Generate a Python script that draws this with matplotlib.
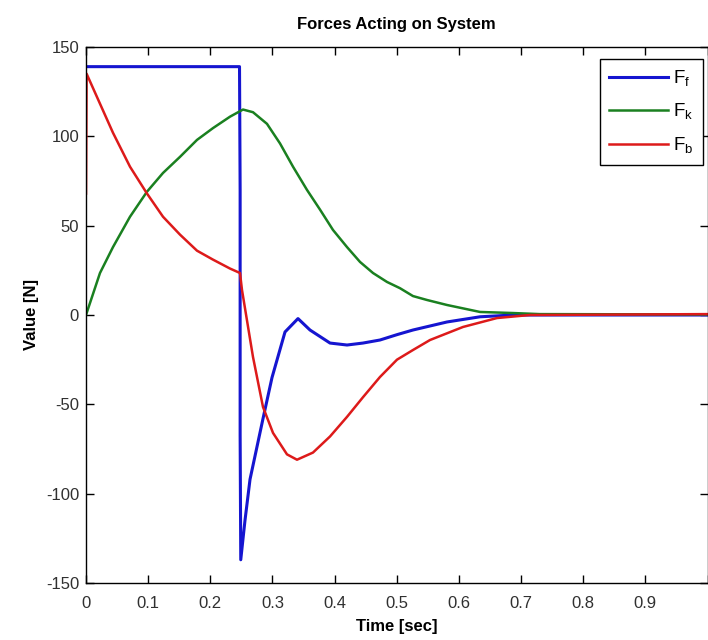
import numpy as np
import matplotlib
matplotlib.use("Agg")
from matplotlib import pyplot as plt

plt.rcParams['font.family'] = ['Liberation Sans', 'DejaVu Sans']
plt.rcParams['mathtext.fontset'] = 'custom'
plt.rcParams['mathtext.rm'] = 'Liberation Sans'
plt.rcParams['axes.unicode_minus'] = False

# values
t_f = [0.0, 0.247, 0.248, 0.248, 0.249, 0.2558, 0.2639, 0.2848, 0.2993, 0.3202,
       0.3411, 0.3604, 0.3926, 0.42, 0.4457, 0.473, 0.5004, 0.5261, 0.5809,
       0.634, 0.687, 1.0]
F_f = [139, 139, 70, -67, -137, -115, -92, -58, -35, -9.5,
       -2, -8.4, -15.7, -16.8, -15.7, -14, -11, -8.4, -3.9,
       -1, 0, 0]

t_k = [0.0, 0.0225, 0.0434, 0.0708, 0.0981, 0.1239, 0.1512, 0.1786, 0.2043,
       0.2317, 0.2526, 0.2687, 0.2912, 0.3122, 0.3331, 0.3556, 0.3765, 0.3974,
       0.42, 0.4409, 0.4618, 0.4843, 0.5052, 0.5261, 0.5487, 0.5809, 0.634,
       0.687, 0.73, 1.0]
F_k = [0, 23.5, 38, 55, 69, 79.5, 88.5, 98, 104.6,
       111, 115, 113.5, 107, 96, 83, 70, 59, 47.6,
       38, 29.7, 23.5, 18.5, 15, 10.6, 8.4, 5.6, 1.7,
       1.1, 0.5, 0.3]

t_b = [0.0, 0.001, 0.0177, 0.0434, 0.0708, 0.0981, 0.1239, 0.1512, 0.1786,
       0.2043, 0.2317, 0.2478, 0.251, 0.2687, 0.2848, 0.3009, 0.3234, 0.3395,
       0.3652, 0.3926, 0.42, 0.4457, 0.473, 0.5004, 0.5261, 0.5535, 0.6066,
       0.6613, 0.7144, 1.0]
F_b = [68, 135, 122, 102, 83, 68, 55, 45, 36,
       31, 26, 23.5, 14, -23.5, -51.5, -66, -78, -81,
       -77, -68, -57, -46, -34.7, -25, -19.6, -14, -6.7,
       -1.7, 0, 0.5]

fig = plt.figure(figsize=(7.08, 6.4), dpi=100)
ax = fig.add_axes([86 / 708, 57 / 640, 621.5 / 708, 536 / 640])

ax.plot(t_f, F_f, color='#1515d0', lw=2.2, label=r'F$_\mathrm{f}$')
ax.plot(t_k, F_k, color='#1a8020', lw=1.8, label=r'F$_\mathrm{k}$')
ax.plot(t_b, F_b, color='#dd1a1a', lw=1.8, label=r'F$_\mathrm{b}$')

ax.set_xlim(0, 1)
ax.set_ylim(-150, 150)
xt = np.arange(0, 1.01, 0.1)
ax.set_xticks(xt)
ax.set_xticklabels(['0'] + ['%.1f' % v for v in xt[1:-1]] + [''])
ax.set_yticks(np.arange(-150, 151, 50))
ax.tick_params(direction='in', top=True, right=True, labelsize=12, length=6,
               width=1, labelcolor='#303030')
ax.tick_params(axis='x', pad=9)
ax.tick_params(axis='y', pad=5)
for s in ax.spines.values():
    s.set_linewidth(1)

ax.set_title('Forces Acting on System', fontsize=12, fontweight='bold', pad=13)
ax.set_xlabel('Time [sec]', fontsize=12, fontweight='bold', labelpad=6)
ax.set_ylabel('Value [N]', fontsize=12, fontweight='bold', labelpad=5)

leg = ax.legend(loc='upper right', bbox_to_anchor=(703 / 708, 1 - 59 / 640),
                bbox_transform=fig.transFigure, borderaxespad=0, fancybox=False,
                fontsize=13.5, handlelength=3.1, labelspacing=0.7, handletextpad=0.3,
                borderpad=0.5, framealpha=1)
leg.get_frame().set_edgecolor('black')
leg.get_frame().set_linewidth(1)

fig.savefig('out.png', dpi=100)
